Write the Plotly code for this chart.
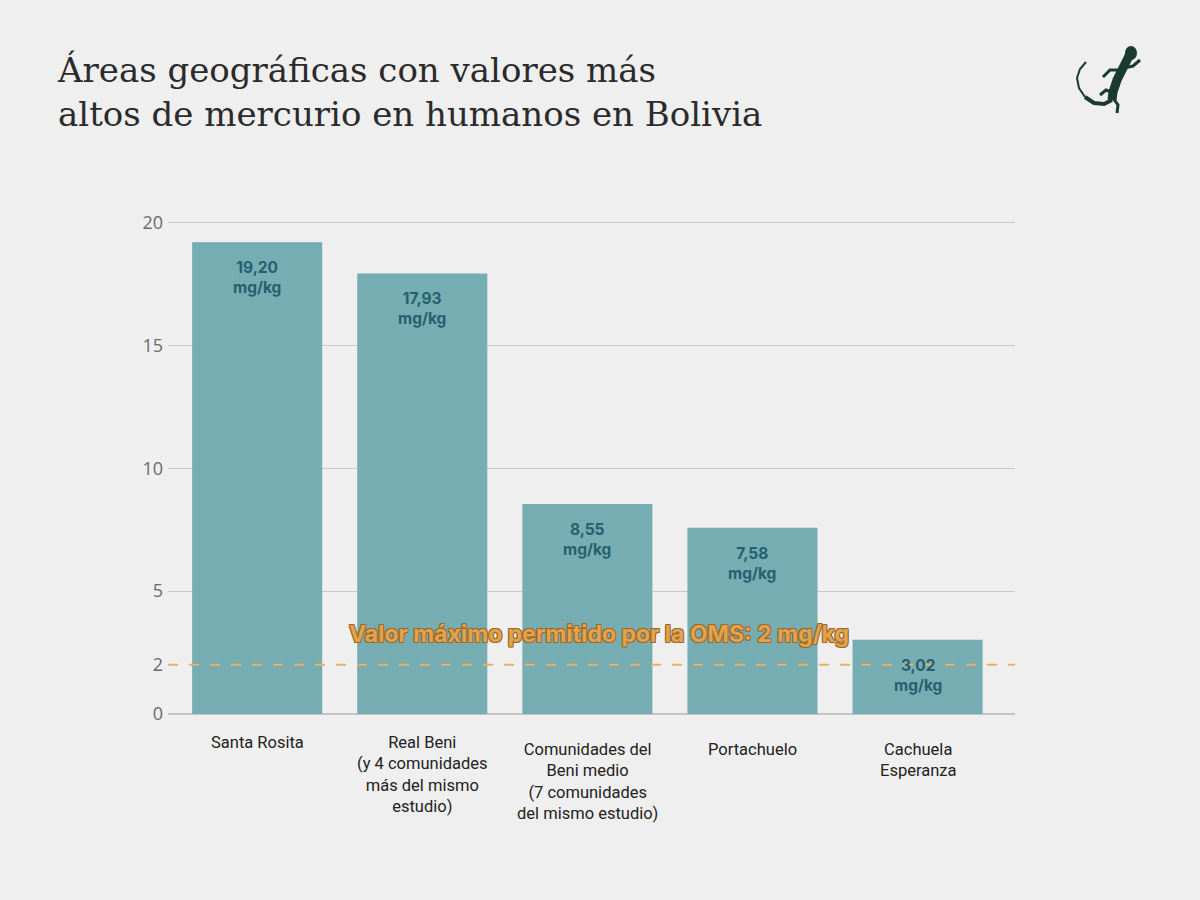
import plotly.graph_objects as go

# ---- data ----
categories = ["Santa Rosita", "Real Beni", "Comunidades del Beni medio",
              "Portachuelo", "Cachuela Esperanza"]
category_labels = [
    "Santa Rosita",
    "Real Beni<br>(y 4 comunidades<br>más del mismo<br>estudio)",
    "Comunidades del<br>Beni medio<br>(7 comunidades<br>del mismo estudio)",
    "Portachuelo",
    "Cachuela<br>Esperanza",
]
values = [19.20, 17.93, 8.55, 7.58, 3.02]
who_limit = 2
y_ticks = [0, 5, 10, 15, 20]
title_text = "Áreas geográficas con valores más<br>altos de mercurio en humanos en Bolivia"
limit_text = "Valor máximo permitido por la OMS: 2 mg/kg"

BG = "#efefef"
BAR = "#76adb3"
BAR_TXT = "#24606e"
ORANGE = "#e3a24e"
ORANGE_DARK = "#9c6a26"

# plot area geometry (pixels)
W, H = 1200, 900
L, R, T, B = 168, 185, 198, 186
YMAX = 21

fig = go.Figure()
fig.add_trace(go.Bar(
    x=categories, y=values,
    marker=dict(color=BAR, line=dict(width=0)),
    hoverinfo="skip",
))

fig.update_layout(
    width=W, height=H,
    paper_bgcolor=BG, plot_bgcolor=BG,
    margin=dict(l=L, r=R, t=T, b=B),
    bargap=0.212,
    showlegend=False,
    title=dict(
        text=title_text,
        x=58 / W, xanchor="left", xref="container",
        y=1 - 82 / H, yanchor="top", yref="container",
        font=dict(family="DejaVu Serif, serif", size=34, color="#2b2b2b"),
    ),
    xaxis=dict(
        type="category", range=[-0.54, 4.59],
        showticklabels=False, showgrid=False, zeroline=False,
        showline=False, fixedrange=True,
    ),
    yaxis=dict(
        range=[0, YMAX], tickvals=y_ticks,
        showgrid=True, gridcolor="#c9c9c9", gridwidth=1,
        zeroline=True, zerolinecolor="#c4c4c4", zerolinewidth=2,
        showline=False, ticks="",
        tickfont=dict(family="Open Sans, sans-serif", size=18, color="#6b6b6b"),
        ticklabelstandoff=4,
    ),
    yaxis2=dict(
        range=[0, YMAX], tickvals=[who_limit], overlaying="y", side="left",
        showgrid=False, zeroline=False, showline=False, ticks="",
        tickfont=dict(family="Open Sans, sans-serif", size=18, color="#6b6b6b"),
        ticklabelstandoff=4,
    ),
)

# invisible trace to activate yaxis2
fig.add_trace(go.Scatter(x=[categories[0]], y=[who_limit], yaxis="y2",
                         mode="markers", marker=dict(opacity=0), hoverinfo="skip"))

# WHO limit dashed line
fig.add_shape(type="line", xref="paper", yref="y", x0=0, x1=1,
              y0=who_limit, y1=who_limit, layer="above",
              line=dict(color="#e8b060", width=2, dash="10px,11px"))

fig.add_annotation(
    text=f"<b>{limit_text}</b>", xref="paper", yref="y",
    x=0.509, y=who_limit, yanchor="bottom", yshift=15, showarrow=False,
    font=dict(family="Inter, Roboto, sans-serif", size=23, color=ORANGE,
              shadow=f"1px 1px 0 {ORANGE_DARK}, -1px -1px 0 {ORANGE_DARK}, 1px -1px 0 {ORANGE_DARK}, -1px 1px 0 {ORANGE_DARK}"),
)

# value labels inside bars
for c, v in zip(categories, values):
    fig.add_annotation(
        text=f"<b>{v:.2f}".replace(".", ",") + "<br>mg/kg</b>",
        x=c, y=v, yanchor="top", yshift=-14, showarrow=False,
        font=dict(family="Inter, Roboto, sans-serif", size=15.5, color=BAR_TXT),
    )

# category labels
label_shift = [-17, -17, -24, -24, -24]
for c, lab, s in zip(categories, category_labels, label_shift):
    fig.add_annotation(
        text=lab, x=c, y=0, yanchor="top", yshift=s, showarrow=False,
        align="center",
        font=dict(family="Roboto, sans-serif", size=16.5, color="#222222"),
    )

# gecko logo (decoration), defined in pixel space
def px(xp, yp):
    return ((xp - L) / (W - L - R), (H - B - yp) / (H - T - B))

def path(points):
    pts = [px(a, b) for a, b in points]
    return "M " + " L ".join(f"{a:.5f},{b:.5f}" for a, b in pts)

GECKO = "#1b3a30"
body = [(1130, 54), (1124, 66), (1117, 80), (1113, 92), (1112, 100)]
tail = [(1112, 100), (1104, 104), (1094, 103), (1085, 97), (1079, 88), (1077, 78), (1080, 69), (1086, 62)]
legs = [
    [(1121, 70), (1110, 70), (1103, 77)],
    [(1124, 68), (1133, 66), (1140, 60)],
    [(1114, 93), (1106, 90), (1100, 95)],
    [(1113, 98), (1118, 105), (1117, 113)],
]
fig.add_shape(type="path", xref="paper", yref="paper", path=path(body),
              line=dict(color=GECKO, width=9), layer="above")
fig.add_shape(type="path", xref="paper", yref="paper", path=path(tail[:4]),
              line=dict(color=GECKO, width=4), layer="above")
fig.add_shape(type="path", xref="paper", yref="paper", path=path(tail[3:]),
              line=dict(color=GECKO, width=2), layer="above")
fig.add_shape(type="circle", xref="paper", yref="paper",
              x0=px(1125, 0)[0], x1=px(1137, 0)[0],
              y0=px(0, 60)[1], y1=px(0, 46)[1],
              fillcolor=GECKO, line=dict(width=0), layer="above")
for lg in legs:
    fig.add_shape(type="path", xref="paper", yref="paper", path=path(lg),
                  line=dict(color=GECKO, width=3), layer="above")

fig.write_html(
    "out.html",
    config={"displayModeBar": False},
    post_script="document.body.style.margin='0';document.body.style.background='%s';" % BG,
)
